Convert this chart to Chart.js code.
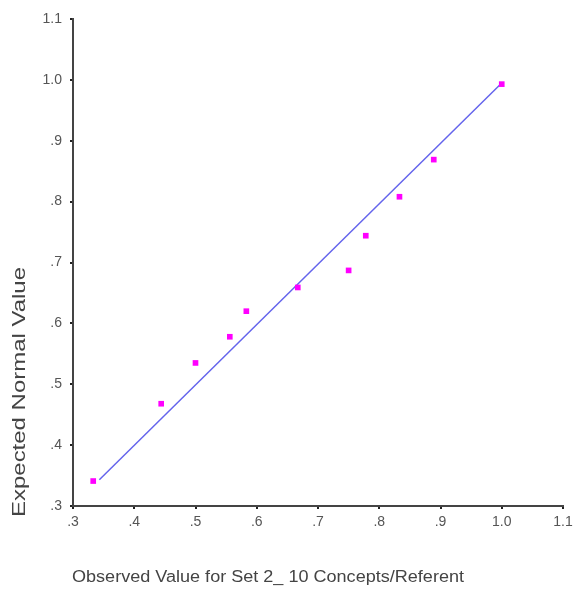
<!DOCTYPE html>
<html>
<head>
<meta charset="utf-8">
<script src="https://cdn.jsdelivr.net/npm/chart.js@4.4.1/dist/chart.umd.min.js"></script>
<style>
  html, body { margin: 0; padding: 0; background: #fff; }
  #wrap { width: 579px; height: 596px; }
</style>
</head>
<body>
<div id="wrap"><canvas id="mycanvas" width="579" height="596"></canvas></div>
<script>
// observed vs expected normal values
var observed = [0.333, 0.444, 0.5, 0.556, 0.583, 0.667, 0.75, 0.778, 0.833, 0.889, 1.0];
var expected = [0.341, 0.468, 0.535, 0.578, 0.620, 0.659, 0.687, 0.744, 0.808, 0.869, 0.993];
// reference line
var lineX = [0.343, 1.0];
var lineY = [0.343, 0.995];

var xTitle = 'Observed Value for Set 2_ 10 Concepts/Referent';
var yTitle = 'Expected Normal Value';

var pts = [];
for (var i in observed) {
  pts.push({ x: observed[i], y: expected[i] });
}
var linePts = [];
for (var j in lineX) {
  linePts.push({ x: lineX[j], y: lineY[j] });
}

function fmt(v) {
  var s = (Math.round(v * 10) / 10).toFixed(1);
  return v < 1 ? s.replace(/^0/, '') : s;
}

// axis titles drawn by hand so they can sit where the original has them
var titles = {
  id: 'titles',
  afterDraw: function(chart) {
    var ctx = chart.ctx;
    ctx.save();
    ctx.fillStyle = '#444';
    ctx.textAlign = 'center';
    ctx.textBaseline = 'middle';

    ctx.font = '16px "Liberation Sans", Arial, sans-serif';
    var w = ctx.measureText(xTitle).width;
    ctx.save();
    ctx.translate(268, 578);
    ctx.scale(392 / w, 1);
    ctx.fillText(xTitle, 0, 0);
    ctx.restore();

    ctx.font = '18px "Liberation Sans", Arial, sans-serif';
    w = ctx.measureText(yTitle).width;
    ctx.save();
    ctx.translate(20, 392);
    ctx.rotate(-Math.PI / 2);
    ctx.scale(250 / w, 1);
    ctx.fillText(yTitle, 0, 0);
    ctx.restore();

    ctx.restore();
  }
};

var ctx = document.getElementById('mycanvas');
var chart = new Chart(ctx, {
  type: 'scatter',
  data: {
    datasets: [
      {
        label: 'observed',
        data: pts,
        pointStyle: 'rect',
        pointRadius: 4,
        backgroundColor: '#ff00ff',
        borderColor: '#ff00ff',
        borderWidth: 0
      },
      {
        label: 'line',
        type: 'line',
        data: linePts,
        showLine: true,
        pointRadius: 0,
        borderColor: '#6464ec',
        borderWidth: 1.5,
        fill: false
      }
    ]
  },
  options: {
    responsive: false,
    animation: false,
    layout: { padding: { left: 0, right: 16, top: 19, bottom: 0 } },
    plugins: {
      legend: { display: false },
      tooltip: { enabled: false }
    },
    scales: {
      x: {
        type: 'linear',
        min: 0.3,
        max: 1.1,
        afterFit: function(s) { s.height = 90; },
        ticks: {
          stepSize: 0.1,
          padding: 5,
          color: '#555',
          font: { family: '"Liberation Sans", Arial, sans-serif', size: 14 },
          callback: function(v) { return fmt(v); },
          maxRotation: 0
        },
        grid: { drawOnChartArea: false, drawTicks: true, tickLength: 3, lineWidth: 2, color: '#222' },
        border: { color: '#444', width: 2 }
      },
      y: {
        type: 'linear',
        min: 0.3,
        max: 1.1,
        afterFit: function(s) { s.width = 73; },
        ticks: {
          stepSize: 0.1,
          padding: 8,
          color: '#555',
          font: { family: '"Liberation Sans", Arial, sans-serif', size: 14 },
          callback: function(v) { return fmt(v); }
        },
        grid: { drawOnChartArea: false, drawTicks: true, tickLength: 3, lineWidth: 2, color: '#222' },
        border: { color: '#444', width: 2 }
      }
    }
  },
  plugins: [titles]
});
</script>
</body>
</html>
